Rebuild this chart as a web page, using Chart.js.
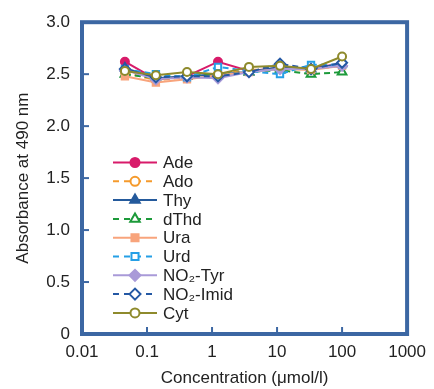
<!DOCTYPE html>
<html>
<head>
<meta charset="utf-8">
<script src="https://cdn.jsdelivr.net/npm/chart.js@4/dist/chart.umd.min.js"></script>
<style>
html,body{margin:0;padding:0;background:#fff;}
#wrap{position:relative;width:434px;height:389px;}
</style>
</head>
<body>
<div id="wrap"><canvas id="c" width="434" height="389"></canvas></div>
<script>
const concentrations = [0.0457, 0.137, 0.412, 1.235, 3.70, 11.1, 33.3, 100];
const seriesNames = ["Ade", "Ado", "Thy", "dThd", "Ura", "Urd", "NO\u2082-Tyr", "NO\u2082-Imid", "Cyt"];
const ade    = [2.62, 2.45, 2.48, 2.62, 2.53, 2.56, 2.56, 2.60];
const ado    = [2.52, 2.44, 2.47, 2.50, 2.54, 2.55, 2.55, 2.58];
const thy    = [2.56, 2.46, 2.48, 2.50, 2.52, 2.57, 2.55, 2.60];
const dthd   = [2.50, 2.46, 2.48, 2.50, 2.52, 2.54, 2.50, 2.52];
const ura    = [2.48, 2.42, 2.45, 2.49, 2.52, 2.55, 2.54, 2.58];
const urd    = [2.55, 2.50, 2.47, 2.57, 2.53, 2.50, 2.59, 2.59];
const no2tyr = [2.54, 2.45, 2.47, 2.46, 2.52, 2.55, 2.55, 2.58];
const no2imid= [2.55, 2.47, 2.48, 2.48, 2.52, 2.60, 2.55, 2.61];
const cyt    = [2.53, 2.49, 2.52, 2.50, 2.57, 2.58, 2.55, 2.67];
const xTicks = [0.01, 0.1, 1, 10, 100, 1000];
const yTicks = [0, 0.5, 1.0, 1.5, 2.0, 2.5, 3.0];

const styles = [
  {c:'#d81b6a', ps:'circle',  fill:true,  dash:[],    r:4},
  {c:'#f59a2c', ps:'circle',  fill:false, dash:[6,4], r:4},
  {c:'#245a9c', ps:'triangle',fill:true,  dash:[],    r:5},
  {c:'#1c9a3a', ps:'triangle',fill:false, dash:[6,4], r:5},
  {c:'#f8a47c', ps:'rect',    fill:true,  dash:[],    r:4.5},
  {c:'#259fe6', ps:'rect',    fill:false, dash:[6,4], r:4.5},
  {c:'#a99ad8', ps:'rectRot', fill:true,  dash:[],    r:5},
  {c:'#2458a4', ps:'rectRot', fill:false, dash:[6,4], r:5},
  {c:'#8e8a2c', ps:'circle',  fill:false, dash:[],    r:4}
];
const allValues = [ade, ado, thy, dthd, ura, urd, no2tyr, no2imid, cyt];

const datasets = allValues.map((vals, i) => {
  const s = styles[i];
  return {
    label: seriesNames[i],
    data: vals.map((v, k) => ({x: concentrations[k], y: v})),
    order: allValues.length - i,
    borderColor: s.c,
    backgroundColor: s.fill ? s.c : '#ffffff',
    borderWidth: 2,
    borderDash: s.dash,
    pointStyle: s.ps,
    pointRadius: s.r,
    pointBorderWidth: 2,
    pointBorderColor: s.c,
    pointBackgroundColor: s.fill ? s.c : '#ffffff',
    tension: 0,
    fill: false
  };
});

const FRAME = '#3c67a3';
const FONT = "'Liberation Sans', Arial, sans-serif";

const framePlugin = {
  id: 'frame',
  afterDatasetsDraw(chart) {
    const {ctx, chartArea: a, scales} = chart;
    ctx.save();
    ctx.strokeStyle = FRAME;
    ctx.lineWidth = 2;
    yTicks.forEach(t => {
      if (t === 0 || t === 3.0) return;
      const y = scales.y.getPixelForValue(t);
      ctx.beginPath(); ctx.moveTo(a.left, y); ctx.lineTo(a.left + 7, y); ctx.stroke();
    });
    xTicks.forEach(t => {
      if (t === 0.01 || t === 1000) return;
      const x = scales.x.getPixelForValue(t);
      ctx.beginPath(); ctx.moveTo(x, a.bottom); ctx.lineTo(x, a.bottom - 7); ctx.stroke();
    });
    ctx.lineWidth = 4;
    ctx.strokeRect(a.left, a.top, a.right - a.left, a.bottom - a.top);
    ctx.restore();

    // legend
    ctx.save();
    const x0 = 113, x1 = 157, tx = 163, y0 = 162.5, dy = 18.8;
    ctx.font = "17px " + FONT;
    ctx.textBaseline = 'middle';
    chart.data.datasets.forEach((ds, i) => {
      const y = y0 + i * dy;
      const s = styles[i];
      ctx.strokeStyle = s.c;
      ctx.lineWidth = 2;
      ctx.setLineDash(s.dash.length ? [6, 5] : []);
      ctx.beginPath(); ctx.moveTo(x0, y); ctx.lineTo(x1, y); ctx.stroke();
      ctx.setLineDash([]);
      ctx.fillStyle = s.fill ? s.c : '#ffffff';
      ctx.strokeStyle = s.c;
      ctx.lineWidth = 2;
      Chart.helpers.drawPoint(ctx, {pointStyle: s.ps, radius: s.r + 0.5, rotation: 0, borderWidth: 2}, (x0 + x1) / 2, y);
      ctx.fillStyle = '#222222';
      ctx.fillText(ds.label, tx, y + 1);
    });
    ctx.restore();
  }
};

new Chart(document.getElementById('c'), {
  type: 'line',
  data: {datasets},
  plugins: [framePlugin],
  options: {
    responsive: false,
    animation: false,
    layout: {padding: {top: 14, right: 26, left: 13, bottom: 0}},
    plugins: {legend: {display: false}, tooltip: {enabled: false}},
    scales: {
      x: {
        type: 'logarithmic',
        min: 0.01, max: 1000,
        afterBuildTicks(scale) { scale.ticks = xTicks.map(v => ({value: v})); },
        afterFit(scale) { scale.height = 389 - 334; },
        grid: {display: false, drawTicks: false},
        border: {display: false},
        ticks: {
          autoSkip: false, maxRotation: 0, padding: 8,
          color: '#222', font: {family: FONT, size: 17},
          callback: v => String(v)
        },
        title: {display: true, text: 'Concentration (\u03bcmol/l)', color: '#222',
                font: {family: FONT, size: 17}, padding: {top: 3, bottom: 0}}
      },
      y: {
        type: 'linear',
        min: 0, max: 3.0,
        afterBuildTicks(scale) { scale.ticks = yTicks.map(v => ({value: v})); },
        afterFit(scale) { scale.width = 69; },
        grid: {display: false, drawTicks: false},
        border: {display: false},
        ticks: {
          padding: 12, color: '#222', font: {family: FONT, size: 17},
          callback: v => v === 0 ? '0' : v.toFixed(1)
        },
        title: {display: true, text: 'Absorbance at 490 nm', color: '#222',
                font: {family: FONT, size: 17}, padding: {top: 0, bottom: 4}}
      }
    }
  }
});
</script>
</body>
</html>
